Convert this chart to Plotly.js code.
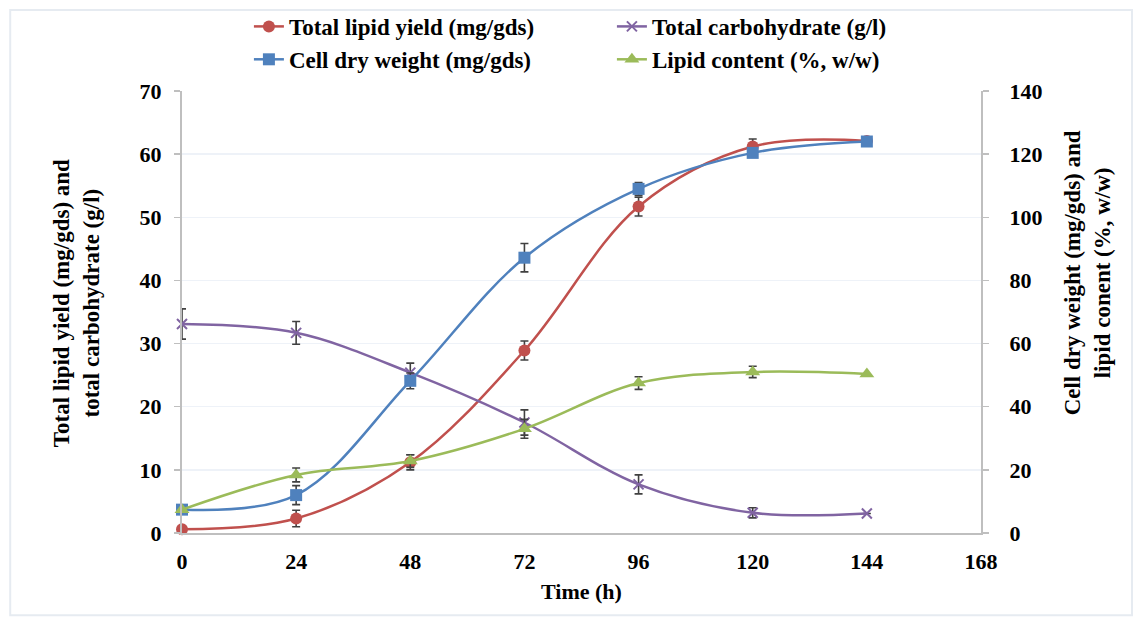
<!DOCTYPE html>
<html>
<head>
<meta charset="utf-8">
<script src="https://cdn.plot.ly/plotly-3.0.1.min.js"></script>
<style>
html,body{margin:0;padding:0;background:#fff;}
#chart{width:1134px;height:619px;}
</style>
</head>
<body>
<div id="chart"></div>
<script>
// Time (h)
const timeH = [0, 24, 48, 72, 96, 120, 144];
const xTickVals = [0, 24, 48, 72, 96, 120, 144, 168];

// Left axis series
const lipidYield = [0.6, 2.3, 11.2, 28.9, 51.7, 61.2, 62.1];
const lipidYieldErr = [0.0, 1.3, 1.2, 1.5, 1.5, 1.2, 0.0];
const carbohydrate = [33.1, 31.7, 25.4, 17.5, 7.7, 3.2, 3.1];
const carbohydrateErr = [2.4, 1.8, 1.5, 2.0, 1.5, 0.8, 0.0];

// Right axis series
const cellDryWeight = [7.4, 12.0, 48.2, 87.2, 109.0, 120.4, 124.0];
const cellDryWeightErr = [0.0, 3.0, 2.5, 4.5, 2.0, 0.0, 0.0];
const lipidContent = [7.4, 18.4, 22.8, 33.0, 47.5, 51.0, 50.4];
const lipidContentErr = [0.0, 2.2, 2.0, 3.0, 2.0, 1.8, 0.0];

const seriesNames = [
  'Total lipid yield (mg/gds)',
  'Total carbohydrate (g/l)',
  'Cell dry weight (mg/gds)',
  'Lipid content (%, w/w)'
];
const leftTitle = 'Total lipid yield (mg/gds) and<br>total carbohydrate (g/l)';
const rightTitle = 'Cell dry weight (mg/gds) and<br>lipid conent (%, w/w)';

const FONT = "'Liberation Serif', 'Times New Roman', serif";
const errStyle = {type: 'data', visible: true, color: '#404040', thickness: 1.6, width: 4};

function trace(name, y, err, color, symbol, size, axis) {
  return {
    x: timeH, y: y, name: name, type: 'scatter', mode: 'lines+markers',
    yaxis: axis, cliponaxis: false,
    line: {color: color, width: 2.5, shape: 'spline', smoothing: 1},
    marker: {color: color, symbol: symbol, size: size,
             line: {color: color, width: symbol === 'x-thin' ? 2 : 0}},
    error_y: Object.assign({array: err}, errStyle)
  };
}

const data = [
  trace(seriesNames[0], lipidYield, lipidYieldErr, '#C0504D', 'circle', 12, 'y'),
  trace(seriesNames[1], carbohydrate, carbohydrateErr, '#8064A2', 'x-thin', 10, 'y'),
  trace(seriesNames[2], cellDryWeight, cellDryWeightErr, '#4F81BD', 'square', 12, 'y2'),
  trace(seriesNames[3], lipidContent, lipidContentErr, '#9BBB59', 'triangle-up', 13, 'y2')
];

const tickFont = {family: FONT, size: 22, color: '#000', weight: 'bold'};
const titleFont = {family: FONT, size: 22, color: '#000', weight: 'bold'};
const yTitleFont = {family: FONT, size: 23, color: '#000', weight: 'bold'};

const layout = {
  width: 1134, height: 619,
  margin: {l: 182, r: 153, t: 91, b: 86, autoexpand: false},
  paper_bgcolor: '#fff', plot_bgcolor: '#fff',
  font: {family: FONT, color: '#000'},
  showlegend: true,
  legend: {
    orientation: 'h', xref: 'container', yref: 'container',
    x: 0.2195, xanchor: 'left', y: 0.992, yanchor: 'top',
    entrywidth: 318, entrywidthmode: 'pixels', itemwidth: 30,
    font: {family: FONT, size: 23, color: '#000', weight: 'bold'},
    tracegroupgap: 0, bgcolor: 'rgba(0,0,0,0)'
  },
  xaxis: {
    range: [0, 168], tickvals: xTickVals, ticktext: xTickVals.map(String),
    showgrid: false, zeroline: false, showline: true, linecolor: '#bfbfbf', linewidth: 2,
    ticks: '', ticklabelstandoff: 8, tickfont: tickFont,
    title: {text: 'Time (h)', font: titleFont, standoff: 10}
  },
  yaxis: {
    range: [0, 70], dtick: 10, tick0: 0,
    showgrid: true, gridcolor: '#eef2f8', gridwidth: 1.5, zeroline: false,
    showline: true, linecolor: '#bfbfbf', linewidth: 2,
    ticks: 'outside', ticklen: 6, tickcolor: '#bfbfbf', tickwidth: 1.5,
    ticklabelstandoff: 8, tickfont: tickFont
  },
  yaxis2: {
    range: [0, 140], dtick: 20, tick0: 0, overlaying: 'y', side: 'right',
    showgrid: false, zeroline: false,
    showline: true, linecolor: '#bfbfbf', linewidth: 2,
    ticks: 'outside', ticklen: 6, tickcolor: '#bfbfbf', tickwidth: 1.5,
    ticklabelstandoff: 16, tickfont: tickFont
  },
  annotations: [
    {text: leftTitle, xref: 'paper', yref: 'paper', x: -0.1327, y: 0.52,
     xanchor: 'center', yanchor: 'middle', textangle: -90, showarrow: false, font: yTitleFont},
    {text: rightTitle, xref: 'paper', yref: 'paper', x: 1.133, y: 0.588,
     xanchor: 'center', yanchor: 'middle', textangle: -90, showarrow: false, font: yTitleFont}
  ],
  shapes: [{
    type: 'rect', xref: 'paper', yref: 'paper',
    x0: -0.215, x1: 1.189, y0: -0.186, y1: 1.183,
    line: {color: '#e6ebf1', width: 2}, fillcolor: 'rgba(0,0,0,0)', layer: 'below'
  }]
};

Plotly.newPlot('chart', data, layout, {displayModeBar: false, staticPlot: true});
</script>
</body>
</html>
